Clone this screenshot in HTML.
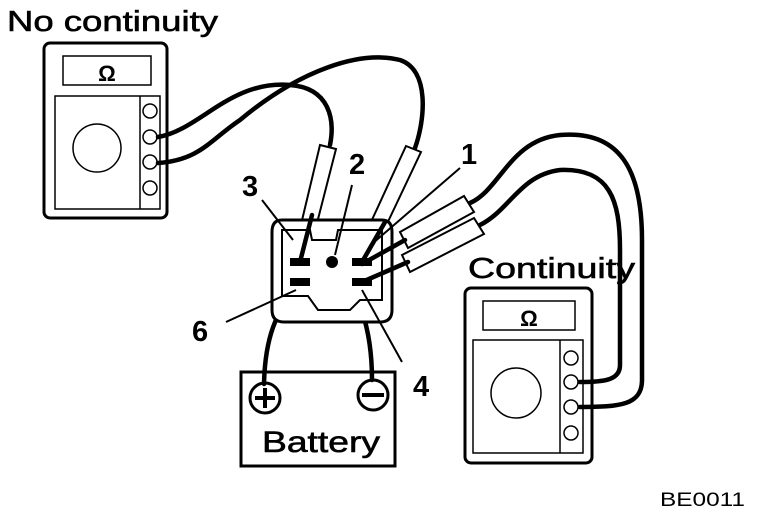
<!DOCTYPE html>
<html><head><style>
html,body{margin:0;padding:0;background:#fff;}
svg{display:block;}
text{font-family:"Liberation Sans",sans-serif;fill:#000;}
</style></head><body>
<svg width="768" height="528" viewBox="0 0 768 528" xmlns="http://www.w3.org/2000/svg">
<g fill="none" stroke="#000">
<!-- left meter -->
<rect x="44" y="43" width="123" height="175" rx="6" stroke-width="3"/>
<rect x="63" y="56" width="88" height="29" stroke-width="1.5"/>
<rect x="55" y="96" width="105" height="113" stroke-width="1.5"/>
<line x1="140" y1="96" x2="140" y2="209" stroke-width="1.5"/>
<circle cx="97" cy="148" r="24" stroke-width="1.5"/>
<circle cx="150" cy="111" r="7" stroke-width="1.5"/>
<circle cx="150" cy="137" r="7" stroke-width="1.5"/>
<circle cx="150" cy="162" r="7" stroke-width="1.5"/>
<circle cx="150" cy="188" r="7" stroke-width="1.5"/>
<!-- right meter -->
<rect x="465" y="288" width="127" height="175" rx="6" stroke-width="3"/>
<rect x="483" y="301" width="92" height="29" stroke-width="1.5"/>
<rect x="473" y="340" width="110" height="113" stroke-width="1.5"/>
<line x1="560" y1="340" x2="560" y2="453" stroke-width="1.5"/>
<circle cx="516" cy="393" r="25" stroke-width="1.5"/>
<circle cx="571" cy="358" r="7" stroke-width="1.5"/>
<circle cx="571" cy="382" r="7" stroke-width="1.5"/>
<circle cx="571" cy="407" r="7" stroke-width="1.5"/>
<circle cx="571" cy="433" r="7" stroke-width="1.5"/>
<!-- wires -->
<g stroke-width="4.5" stroke-linecap="round">
<path d="M158 137 C200 130 230 80 290 85 C330 88 335 120 330 145"/>
<path d="M158 163 C200 160 210 140 240 120 C300 70 360 50 400 60 C430 70 425 120 415 148"/>
<path d="M470 203 C500 190 510 140 560 135 C620 130 642 170 642 240 L642 380 C642 405 620 407 580 407"/>
<path d="M480 225 C510 210 520 175 560 170 C610 168 620 200 620 250 L620 365 C620 380 605 382 580 382"/>
<path d="M300 285 C275 310 265 340 264 384"/>
<path d="M332 262 C360 290 372 330 372 380"/>
</g>
<!-- probes -->
<g stroke-width="2" fill="#fff">
<path d="M320 145 L336 149 L307 262 L293 258 Z"/>
<path d="M406 146 L421 152 L385 228 L371 222 Z"/>
<path d="M400 232 L464 196 L474 212 L408 248 Z"/>
<path d="M402 255 L474 218 L484 234 L410 272 Z"/>
</g>
<!-- connector -->
<path d="M282 220 L382 220 Q392 220 392 232 L392 310 Q392 322 380 322 L284 322 Q272 322 272 310 L272 232 Q272 220 282 220 Z" stroke-width="3" fill="#fff"/>
<path d="M282 230 L310 230 L312 240 L336 240 L338 230 L382 230 L382 300 L360 300 L350 310 L318 310 L308 296 L282 296 Z" stroke-width="2"/>
<g fill="#000" stroke="none">
<rect x="290" y="258" width="20" height="8"/>
<rect x="352" y="258" width="20" height="8"/>
<rect x="290" y="278" width="20" height="8"/>
<rect x="352" y="278" width="20" height="8"/>
<circle cx="332" cy="262" r="6"/>
</g>
<g stroke-width="4.5" stroke-linecap="round">
<line x1="300" y1="262" x2="312" y2="215"/>
<line x1="362" y1="262" x2="385" y2="222"/>
<line x1="362" y1="264" x2="405" y2="240"/>
<line x1="362" y1="282" x2="408" y2="262"/>
</g>
<!-- label lines -->
<g stroke-width="2">
<line x1="262" y1="200" x2="293" y2="240"/>
<line x1="352" y1="185" x2="335" y2="255"/>
<line x1="460" y1="168" x2="372" y2="244"/>
<line x1="226" y1="322" x2="296" y2="290"/>
<line x1="402" y1="362" x2="362" y2="290"/>
</g>
<!-- battery -->
<rect x="241" y="372" width="154" height="94" stroke-width="3"/>
<circle cx="265" cy="398" r="15" stroke-width="3"/>
<circle cx="373" cy="395" r="15" stroke-width="3"/>
<line x1="255" y1="398" x2="275" y2="398" stroke-width="4"/>
<line x1="265" y1="388" x2="265" y2="408" stroke-width="4"/>
<line x1="362" y1="395" x2="384" y2="395" stroke-width="4"/>
</g>
<text x="7" y="31" font-size="29" textLength="211" lengthAdjust="spacingAndGlyphs" stroke="#000" stroke-width="0.6">No continuity</text>
<text x="468" y="278" font-size="29" textLength="167" lengthAdjust="spacingAndGlyphs" stroke="#000" stroke-width="0.6">Continuity</text>
<text x="107" y="81" font-size="22" font-weight="bold" text-anchor="middle">Ω</text>
<text x="529" y="326" font-size="22" font-weight="bold" text-anchor="middle">Ω</text>
<text x="262" y="452" font-size="30" textLength="118" lengthAdjust="spacingAndGlyphs" stroke="#000" stroke-width="0.6">Battery</text>
<text x="242" y="196" font-size="29" font-weight="bold">3</text>
<text x="349" y="174" font-size="29" font-weight="bold">2</text>
<text x="461" y="164" font-size="29" font-weight="bold">1</text>
<text x="192" y="341" font-size="29" font-weight="bold">6</text>
<text x="413" y="396" font-size="29" font-weight="bold">4</text>
<text x="660" y="506" font-size="19" textLength="85" lengthAdjust="spacingAndGlyphs">BE0011</text>
</svg>
</body></html>
